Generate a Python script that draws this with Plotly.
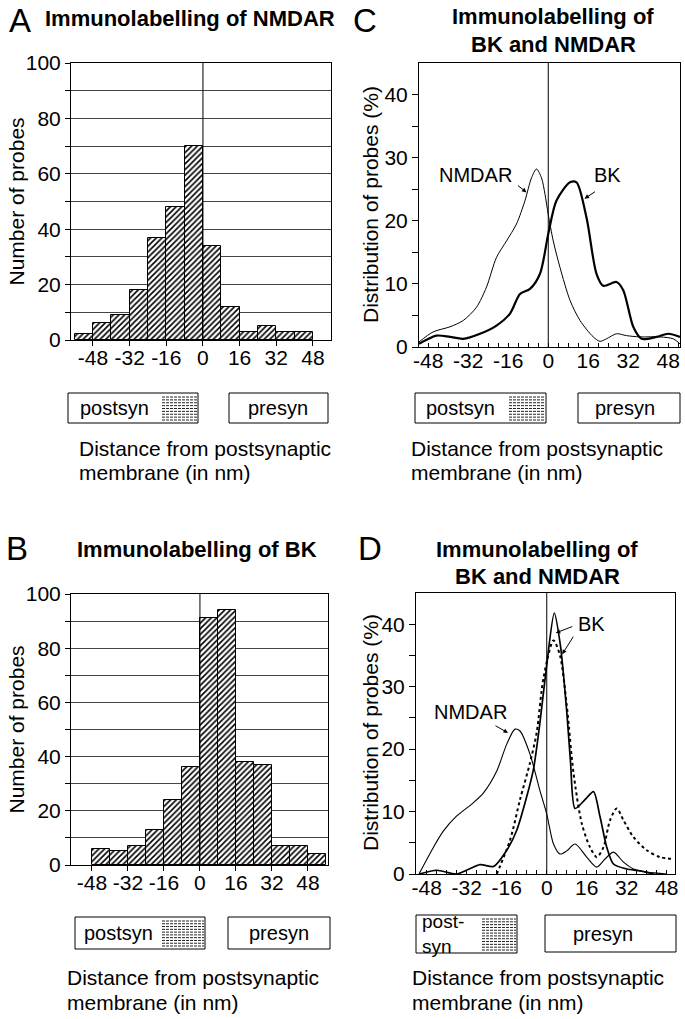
import plotly.graph_objects as go

# ---------------- data ----------------
# Panel A: immunolabelling of NMDAR (bin centres in nm, 8 nm bins)
a_bins = [-52, -44, -36, -28, -20, -12, -4, 4, 12, 20, 28, 36, 44]
a_counts = [2, 6, 9, 18, 37, 48, 70, 34, 12, 3, 5, 3, 3]

# Panel B: immunolabelling of BK
b_bins = [-44, -36, -28, -20, -12, -4, 4, 12, 20, 28, 36, 44, 52]
b_counts = [6, 5, 7, 13, 24, 36, 91, 94, 38, 37, 7, 7, 4]

# Panel C: distribution (%) of BK and NMDAR
c_nmdar_x = [-51.7, -46, -39.3, -34, -28.7, -24.7, -20.7, -16.7, -12.7, -9.3, -6.7, -4.7, -2.7,
             -1.3, 0, 2, 4.7, 8.7, 12.7, 18, 20.7, 23.3, 27.3, 31.3, 36.7, 44.7, 50, 52.7]
c_nmdar_y = [0.8, 2.4, 3.2, 4.2, 6.3, 9.5, 14.2, 16.8, 19.5, 23.2, 26.8, 28.2, 26.8,
             24.2, 21, 16.8, 12.6, 7.4, 4.2, 1.6, 0.9, 1.3, 2.1, 1.8, 1.6, 1.6, 1.3, 0.5]
c_bk_x = [-51.7, -44.7, -39.3, -34, -27.3, -20.7, -15.3, -11.3, -7.3, -3.3, 0, 3.3, 8.7,
          11.3, 15.3, 19.3, 22, 27.3, 30, 34, 37.3, 43.3, 48, 52.7]
c_bk_y = [0.5, 1.8, 1.6, 1.3, 2.1, 3.4, 5.3, 8.4, 9.2, 11.6, 17.9, 23.2, 26.1,
          26.1, 20.5, 11.6, 9.7, 10.3, 9.0, 3.2, 1.3, 1.6, 2.1, 1.6]

# Panel D: distribution (%) of BK (two series) and NMDAR
d_nmdar_x = [-51.1, -45.3, -41.3, -36, -30, -25.3, -20, -16, -12.7, -10.7, -6.7, -2.7, 0,
             2.7, 5.3, 8, 11.3, 16, 20, 23.3, 26.7, 30.7, 34.7, 40, 48]
d_nmdar_y = [0, 4.3, 6.9, 9.3, 11.2, 13, 16.5, 20.8, 23.2, 22.9, 19.2, 13.3, 9.6,
             4.8, 3.2, 3.7, 4.8, 2.7, 1.1, 2.4, 3.5, 1.9, 0.8, 0.3, 0]
d_bk_x = [-51, -44, -36, -26.7, -21.3, -16, -12, -8, -5.3, -2.7, 0, 3, 5.5, 8, 9.5,
          11.3, 15.3, 18.7, 21.3, 24, 26.7, 32, 37.3, 42.7]
d_bk_y = [0, 0.6, 0, 1.5, 1.2, 3.8, 7, 12.4, 16.8, 24.3, 33.5, 41.8, 36.5, 26, 18,
          10.5, 11.9, 13.2, 9.2, 4.3, 1.6, 0.8, 0.5, 0]
d_bk2_x = [-20, -14.7, -10.7, -6.7, -4, -1.3, 2.7, 5.3, 8, 10.7, 14, 17.3, 20, 22.7,
           25.3, 28, 30.7, 34.7, 40, 45.3, 50.7]
d_bk2_y = [0, 5.4, 11.9, 17.8, 22.7, 31.4, 37.4, 35, 27, 16.2, 8.1, 4.3, 2.7, 4.3,
           8.6, 10.5, 8.6, 5.9, 3.8, 2.7, 2.4]

dist_ticks = [-48, -32, -16, 0, 16, 32, 48]
dist_labels = ["-48", "-32", "-16", "0", "16", "32", "48"]
count_ticks = list(range(0, 101, 10))
count_labels = [str(v) if v % 20 == 0 else "" for v in count_ticks]
pct_ticks = list(range(0, 41, 5))
pct_labels = [str(v) if v % 10 == 0 else "" for v in pct_ticks]

# ---------------- layout helpers ----------------
W, H = 685, 1019
FONT = "Liberation Sans, Arial, Helvetica, sans-serif"


def px(x):
    return x / W


def py(y):
    return 1 - y / H


fig = go.Figure()

bar_style = dict(
    marker=dict(color="white", line=dict(color="black", width=1),
                pattern=dict(shape="/", fgcolor="black", bgcolor="white",
                             size=4, solidity=0.4)),
    width=8, showlegend=False, hoverinfo="skip",
)
fig.add_trace(go.Bar(x=a_bins, y=a_counts, xaxis="x", yaxis="y", **bar_style))
fig.add_trace(go.Bar(x=b_bins, y=b_counts, xaxis="x2", yaxis="y2", **bar_style))

sp = dict(mode="lines", line_shape="spline", showlegend=False, hoverinfo="skip")
fig.add_trace(go.Scatter(x=c_nmdar_x, y=c_nmdar_y, xaxis="x3", yaxis="y3",
                         line=dict(color="black", width=1, smoothing=0.8), **sp))
fig.add_trace(go.Scatter(x=c_bk_x, y=c_bk_y, xaxis="x3", yaxis="y3",
                         line=dict(color="black", width=2.2, smoothing=0.8), **sp))
fig.add_trace(go.Scatter(x=d_nmdar_x, y=d_nmdar_y, xaxis="x4", yaxis="y4",
                         line=dict(color="black", width=1.1, smoothing=0.8), **sp))
fig.add_trace(go.Scatter(x=d_bk2_x, y=d_bk2_y, xaxis="x4", yaxis="y4",
                         line=dict(color="black", width=2, dash="dot", smoothing=0.8), **sp))
fig.add_trace(go.Scatter(x=d_bk_x, y=d_bk_y, xaxis="x4", yaxis="y4",
                         line=dict(color="black", width=1.7, smoothing=0.7), **sp))

axis_common = dict(showline=True, linecolor="black", linewidth=1, mirror=True,
                   zeroline=False, automargin=False, tickangle=0,
                   tickfont=dict(family=FONT, size=21, color="black"),
                   tickcolor="black", fixedrange=True)

hist_x = dict(axis_common, tickvals=dist_ticks, ticktext=dist_labels, ticks="outside",
              ticklen=5, showgrid=False, ticklabelstandoff=-6)
hist_y = dict(axis_common, tickvals=count_ticks, ticktext=count_labels, range=[0, 100],
              ticks="outside", ticklen=5, showgrid=True, gridcolor="#444", gridwidth=1)
dist_x = dict(axis_common, tickvals=dist_ticks, ticktext=dist_labels, ticks="inside",
              ticklen=4, showgrid=False, ticklabelstandoff=-5,
              minor=dict(dtick=4, tick0=0, ticks="inside", ticklen=4, tickcolor="black"))
dist_y = dict(axis_common, tickvals=pct_ticks, ticktext=pct_labels, range=[0, 45],
              ticks="outside", ticklen=6, showgrid=False)

fig.update_layout(
    template="none",
    width=W, height=H, margin=dict(l=0, r=0, t=0, b=0, pad=0, autoexpand=False),
    paper_bgcolor="white", plot_bgcolor="white", bargap=0,
    font=dict(family=FONT, color="black"),
    xaxis=dict(hist_x, domain=[px(71), px(331)], range=[-57.6, 55.9], anchor="y"),
    yaxis=dict(hist_y, domain=[py(340), py(63)], anchor="x"),
    xaxis2=dict(hist_x, domain=[px(71), px(328)], range=[-57.3, 56.9], anchor="y2"),
    yaxis2=dict(hist_y, domain=[py(865), py(594)], anchor="x2"),
    xaxis3=dict(dist_x, domain=[px(419), px(680)], range=[-51.7, 52.7], anchor="y3"),
    yaxis3=dict(dist_y, domain=[py(347), py(63)], anchor="x3"),
    xaxis4=dict(dist_x, domain=[px(416), px(675)], range=[-52.3, 51.3], anchor="y4"),
    yaxis4=dict(dist_y, domain=[py(874), py(593)], anchor="x4"),
)

# vertical line at 0 nm in every panel
for xr, yr in [("x", "y"), ("x2", "y2"), ("x3", "y3"), ("x4", "y4")]:
    fig.add_shape(type="line", xref=xr, yref=yr + " domain", x0=0, x1=0, y0=0, y1=1,
                  line=dict(color="black", width=1))

ann = []


def text(x, y, s, size=20, bold=False, xanchor="center", angle=0):
    ann.append(dict(x=px(x), y=py(y), xref="paper", yref="paper", text=s,
                    showarrow=False, xanchor=xanchor, yanchor="middle", textangle=angle,
                    font=dict(family=FONT, size=size, color="black",
                              weight="bold" if bold else "normal")))


# panel letters
text(20, 20, "A", size=33)
text(17, 548, "B", size=33)
text(365, 20, "C", size=33)
text(370, 548, "D", size=33)

# titles
text(190, 18, "Immunolabelling of NMDAR", size=22, bold=True)
text(197, 549, "Immunolabelling of BK", size=22, bold=True)
text(553, 16, "Immunolabelling of", size=22, bold=True)
text(553, 44, "BK and NMDAR", size=22, bold=True)
text(537, 549, "Immunolabelling of", size=22, bold=True)
text(537, 576, "BK and NMDAR", size=22, bold=True)

# y-axis titles
text(16, 201.5, "Number of probes", size=21, angle=-90)
text(16, 729.5, "Number of probes", size=21, angle=-90)
text(370, 205, "Distribution of probes (%)", size=21, angle=-90)
text(370, 733, "Distribution of probes (%)", size=21, angle=-90)

# x-axis titles
for x0, y0 in [(77, 448), (409, 448), (65, 977), (410, 977)]:
    text(x0, y0, "Distance from postsynaptic", size=21, xanchor="left")
    text(x0, y0 + 25, "membrane (in nm)", size=21, xanchor="left")

# legend boxes
shapes = []


def box(x0, x1, y0, y1):
    shapes.append(dict(type="rect", xref="paper", yref="paper", x0=px(x0), x1=px(x1),
                       y0=py(y1), y1=py(y0), line=dict(color="black", width=1)))


def swatch(x0, x1, y0, y1):
    n = int((y1 - y0) / 2.6)
    for i in range(n + 1):
        yy = y0 + i * (y1 - y0) / n
        shapes.append(dict(type="line", xref="paper", yref="paper", x0=px(x0), x1=px(x1),
                           y0=py(yy), y1=py(yy),
                           line=dict(color="#222", width=1, dash="3px,1px")))


box(68, 198, 393, 423); swatch(162, 197, 397, 420)
box(229, 328, 393, 423)
text(78, 408, "postsyn", size=20, xanchor="left")
text(278, 408, "presyn", size=20)

box(415, 546, 393, 423); swatch(509, 545, 397, 420)
box(578, 680, 393, 423)
text(424, 408, "postsyn", size=20, xanchor="left")
text(625, 408, "presyn", size=20)

box(75, 205, 917, 949); swatch(162, 204, 921, 946)
box(228, 330, 917, 949)
text(82, 933, "postsyn", size=20, xanchor="left")
text(279, 933, "presyn", size=20)

box(416, 517, 915, 953); swatch(482, 516, 919, 950)
box(545, 676, 915, 952)
ann.append(dict(x=px(420), y=py(934), xref="paper", yref="paper", text="post-<br>syn",
                showarrow=False, xanchor="left", yanchor="middle", align="left",
                font=dict(family=FONT, size=19, color="black")))
text(603, 934, "presyn", size=20)


# curve labels with arrows (data coordinates)
def label(xr, yr, x, y, s):
    ann.append(dict(x=x, y=y, xref=xr, yref=yr, text=s, showarrow=False,
                    font=dict(family=FONT, size=20, color="black")))


def arrow(xr, yr, x, y, ax, ay):
    ann.append(dict(x=x, y=y, xref=xr, yref=yr, text="", showarrow=True, ax=ax, ay=ay,
                    arrowhead=2, arrowsize=0.9, arrowwidth=1, arrowcolor="black"))


label("x3", "y3", -29.3, 27.2, "NMDAR")
arrow("x3", "y3", -8.7, 24.5, -10, -8)
label("x3", "y3", 23.5, 27.2, "BK")
arrow("x3", "y3", 14.5, 23.5, 12, -8)

label("x4", "y4", -30.7, 26, "NMDAR")
arrow("x4", "y4", -15.5, 22.6, -14, -8)
label("x4", "y4", 18, 40.1, "BK")
arrow("x4", "y4", 3.6, 38.6, 18, -7)
arrow("x4", "y4", 6.2, 35.2, 12, -19)

fig.update_layout(annotations=ann, shapes=fig.layout.shapes + tuple(shapes))

fig.write_html("out.html", config={"displayModeBar": False},
               post_script="document.body.style.margin='0';"
                           "document.body.style.overflow='hidden';")
